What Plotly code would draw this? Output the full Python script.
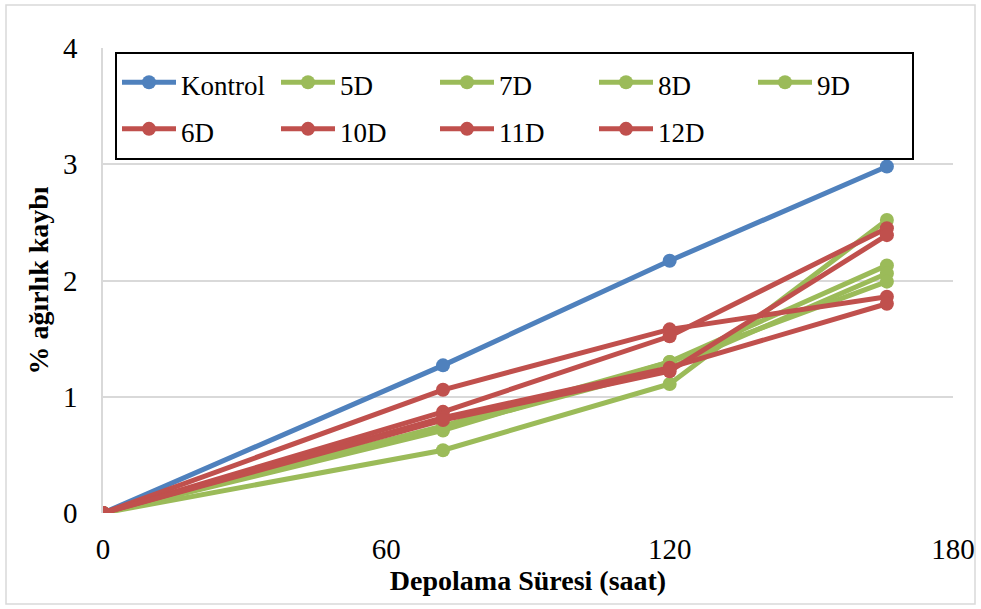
import plotly.graph_objects as go

hours = [0, 72, 120, 166]
series_names = ["Kontrol", "5D", "7D", "8D", "9D", "6D", "10D", "11D", "12D"]
kontrol = [0, 1.27, 2.17, 2.98]
d5 = [0, 0.71, 1.30, 2.13]
d7 = [0, 0.54, 1.11, 2.52]
d8 = [0, 0.73, 1.25, 2.06]
d9 = [0, 0.75, 1.30, 1.99]
d6 = [0, 1.06, 1.58, 1.86]
d10 = [0, 0.87, 1.52, 2.45]
d11 = [0, 0.82, 1.25, 1.80]
d12 = [0, 0.80, 1.22, 2.39]

BLUE = "#4F81BD"
GREEN = "#9BBB59"
RED = "#C0504D"
values = [kontrol, d5, d7, d8, d9, d6, d10, d11, d12]
colors = [BLUE, GREEN, GREEN, GREEN, GREEN, RED, RED, RED, RED]

FONT = "Liberation Serif, Times New Roman, serif"

fig = go.Figure()
for name, vals, col in zip(series_names, values, colors):
    fig.add_trace(go.Scatter(
        x=hours, y=vals, name=f'<span style="font-size:27px">{name}</span>',
        mode="lines+markers",
        line=dict(color=col, width=5),
        marker=dict(color=col, size=14),
    ))

L, R, T, B = 103, 953, 48, 513
pw, ph = R - L, B - T
def px_x(p):
    return (p - L) / pw
def px_y(p):
    return (B - p) / ph

fig.add_shape(type="rect", xref="paper", yref="paper",
              x0=px_x(6), x1=px_x(975), y0=px_y(604), y1=px_y(5),
              line=dict(color="#D9D9D9", width=1.5), layer="below")

fig.update_layout(
    width=981, height=609,
    margin=dict(l=L, r=981 - R, t=T, b=609 - B, autoexpand=False),
    paper_bgcolor="white", plot_bgcolor="white",
    font=dict(family=FONT, size=27, color="black"),
    showlegend=True,
    legend=dict(
        orientation="h", x=px_x(115), y=px_y(52), xanchor="left", yanchor="top",
        bordercolor="black", borderwidth=2, bgcolor="white",
        font=dict(family=FONT, size=33.5, color="black"),
        entrywidth=90, entrywidthmode="pixels",
        itemwidth=54, tracegroupgap=0,
    ),
    xaxis=dict(
        range=[0, 180], tickvals=[0, 60, 120, 180], showgrid=False,
        zeroline=False, showline=False, automargin=False,
        ticks="outside", ticklen=10, tickcolor="rgba(0,0,0,0)",
        tickfont=dict(family=FONT, size=29),
        title=dict(text="<b>Depolama Süresi (saat)</b>", font=dict(family=FONT, size=28), standoff=6),
    ),
    yaxis=dict(
        range=[0, 4], tickvals=[0, 1, 2, 3, 4], showgrid=True,
        gridcolor="#D9D9D9", gridwidth=1.5, automargin=False,
        zeroline=False, showline=True, linecolor="#D9D9D9", linewidth=1.5,
        ticks="outside", ticklen=18, tickcolor="rgba(0,0,0,0)",
        tickfont=dict(family=FONT, size=29),
        title=dict(text="<b>% ağırlık kaybı</b>", font=dict(family=FONT, size=28), standoff=6),
    ),
)

fig.write_html("out.html")
